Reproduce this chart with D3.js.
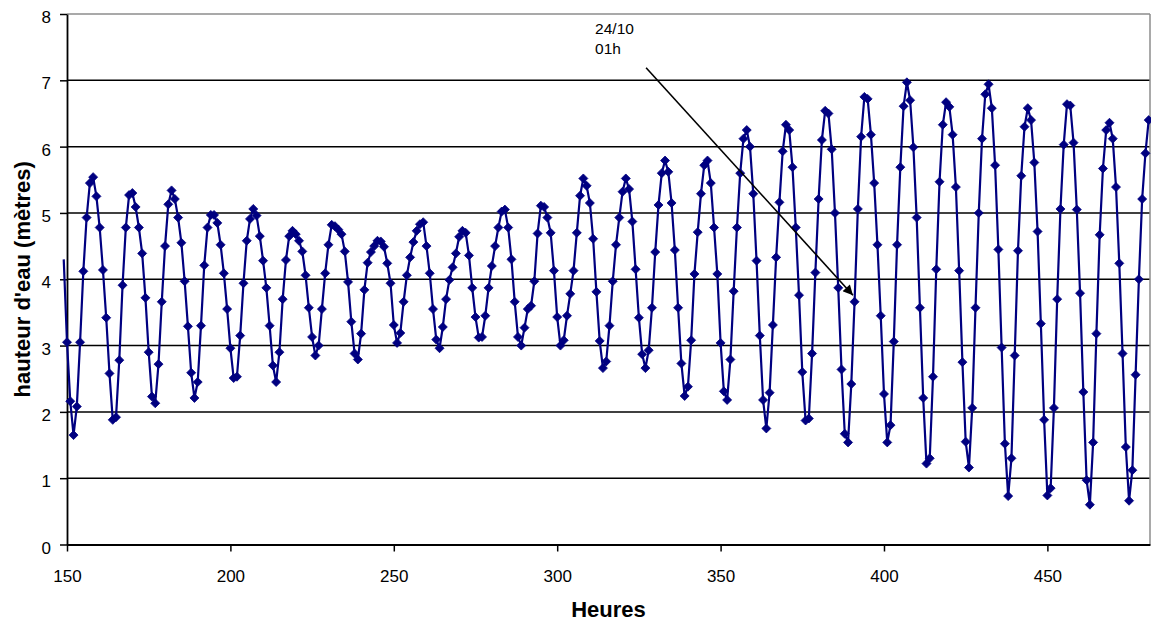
<!DOCTYPE html>
<html>
<head>
<meta charset="utf-8">
<script src="https://cdn.jsdelivr.net/npm/d3@7"></script>
<style>
  html, body { margin: 0; padding: 0; background: #fff; }
  svg { display: block; font-family: Arial, "Liberation Sans", sans-serif; }
</style>
</head>
<body>
<svg id="chart" width="1151" height="624"></svg>
<script>
// ---- data (hourly water height, metres) ----
const firstHour = 149;
const heights1 = [4.30, 3.05, 2.16, 1.65, 2.08, 3.05, 4.12, 4.93, 5.45, 5.54, 5.25, 4.78, 4.14, 3.42, 2.58, 1.88, 1.92, 2.78, 3.91, 4.78, 5.27, 5.30, 5.09, 4.78, 4.39, 3.72, 2.90, 2.23, 2.13, 2.72, 3.66, 4.50, 5.13, 5.34, 5.21, 4.93, 4.55, 3.97, 3.29, 2.59, 2.21];
const heights2 = [2.45, 3.30, 4.21, 4.78, 4.97, 4.97, 4.85, 4.52, 4.09, 3.55, 2.96, 2.51, 2.53, 3.15, 3.94, 4.58, 4.91, 5.06, 4.96, 4.65, 4.28, 3.87, 3.30, 2.70, 2.45, 2.90, 3.70, 4.29, 4.65, 4.73, 4.68, 4.58, 4.42, 4.06, 3.57, 3.13, 2.85, 3.00, 3.55, 4.09, 4.52];
const heights3 = [4.82, 4.80, 4.75, 4.68, 4.42, 3.96, 3.36, 2.88, 2.79, 3.18, 3.84, 4.25, 4.41, 4.50, 4.58, 4.57, 4.49, 4.24, 3.94, 3.31, 3.04, 3.19, 3.66, 4.06, 4.33, 4.56, 4.73, 4.83, 4.86, 4.50, 4.09, 3.55, 3.09, 2.96, 3.28, 3.70, 3.99, 4.18, 4.39, 4.64, 4.73];
const heights4 = [4.70, 4.36, 3.87, 3.43, 3.12, 3.13, 3.45, 3.87, 4.20, 4.50, 4.78, 5.02, 5.05, 4.78, 4.30, 3.66, 3.13, 3.00, 3.27, 3.55, 3.60, 3.97, 4.69, 5.11, 5.09, 4.93, 4.70, 4.13, 3.43, 3.00, 3.08, 3.45, 3.78, 4.13, 4.70, 5.26, 5.52, 5.41, 5.15, 4.61, 3.81, 3.07];
const heights5 = [2.66, 2.76, 3.30, 3.97, 4.52, 4.93, 5.32, 5.52, 5.36, 4.87, 4.15, 3.42, 2.87, 2.66, 2.93, 3.57, 4.41, 5.12, 5.60, 5.79, 5.62, 5.15, 4.44, 3.57, 2.73, 2.24, 2.38, 3.08, 4.08, 4.71, 5.29, 5.72, 5.79, 5.45, 4.78, 4.08, 3.04, 2.31, 2.18, 2.79, 3.82];
const heights6 = [4.78, 5.60, 6.12, 6.25, 6.00, 5.29, 4.28, 3.15, 2.18, 1.75, 2.29, 3.31, 4.33, 5.16, 5.93, 6.33, 6.25, 5.69, 4.78, 3.76, 2.60, 1.87, 1.90, 2.88, 4.10, 5.21, 6.10, 6.54, 6.50, 5.96, 5.00, 3.87, 2.64, 1.67, 1.54, 2.42, 3.66, 5.06, 6.15, 6.75, 6.72];
const heights7 = [6.18, 5.45, 4.52, 3.45, 2.27, 1.54, 1.80, 3.06, 4.52, 5.69, 6.61, 6.97, 6.70, 5.99, 4.93, 3.57, 2.21, 1.22, 1.30, 2.53, 4.15, 5.47, 6.33, 6.67, 6.60, 6.18, 5.39, 4.13, 2.75, 1.55, 1.16, 2.06, 3.57, 5.00, 6.12, 6.79, 6.94, 6.58, 5.72, 4.45, 2.97, 1.52];
const heights8 = [0.73, 1.30, 2.85, 4.43, 5.56, 6.30, 6.58, 6.40, 5.76, 4.72, 3.33, 1.88, 0.74, 0.85, 2.06, 3.70, 5.06, 6.03, 6.64, 6.62, 6.06, 5.05, 3.79, 2.30, 0.97, 0.60, 1.54, 3.18, 4.67, 5.67, 6.25, 6.36, 6.12, 5.39, 4.24, 2.88, 1.47, 0.66, 1.12, 2.56, 4.00, 5.21, 5.90, 6.40];
const heights = [].concat(heights1, heights2, heights3, heights4, heights5, heights6, heights7, heights8);

const xTicks = [150, 200, 250, 300, 350, 400, 450];
const yTicks = [0, 1, 2, 3, 4, 5, 6, 7, 8];
const xDomain = [150, 481.4];
const yDomain = [0, 8];
const xTitle = "Heures";
const yTitle = "hauteur d'eau (mètres)";
const noteLines = ["24/10", "01h"];
const noteText = { hour: 311.6, value: 7.70 };
const arrowFrom = { hour: 327.2, value: 7.19 };
const arrowTo = { hour: 390.5, value: 3.76 };

// ---- layout ----
const svg = d3.select("#chart");
const m = { left: 67, right: 1150, top: 14, bottom: 544.5 };
const x = d3.scaleLinear().domain(xDomain).range([m.left, m.right]);
const y = d3.scaleLinear().domain(yDomain).range([m.bottom, m.top]);
const navy = "#000080";

const data = heights.map((v, i) => ({ h: firstHour + i, v }));

// horizontal gridlines
svg.append("g").selectAll("line").data(yTicks.filter(t => t > 0 && t < 8)).join("line")
  .attr("x1", m.left).attr("x2", m.right)
  .attr("y1", d => y(d)).attr("y2", d => y(d))
  .attr("stroke", "#000").attr("stroke-width", 1.5);

// plot frame: top and right in gray
svg.append("line").attr("x1", m.left).attr("x2", m.right).attr("y1", y(8)).attr("y2", y(8))
  .attr("stroke", "#8c8c8c").attr("stroke-width", 1.5);
svg.append("line").attr("x1", m.right).attr("x2", m.right).attr("y1", y(8)).attr("y2", y(0))
  .attr("stroke", "#8c8c8c").attr("stroke-width", 1.5);

// axes
const xAxis = d3.axisBottom(x).tickValues(xTicks).tickSize(7).tickSizeOuter(0).tickPadding(18);
const yAxis = d3.axisLeft(y).tickValues(yTicks).tickSize(7).tickSizeOuter(0).tickPadding(9);

const gx = svg.append("g").attr("transform", `translate(0,${m.bottom})`).call(xAxis);
const gy = svg.append("g").attr("transform", `translate(${m.left},0)`).call(yAxis);
[gx, gy].forEach(g => {
  g.select(".domain").attr("stroke", "#000").attr("stroke-width", 1.8);
  g.selectAll(".tick line").attr("stroke", "#000").attr("stroke-width", 1.5);
  g.selectAll(".tick text").attr("fill", "#000").attr("font-size", 17)
    .attr("font-family", 'Arial, "Liberation Sans", sans-serif');
});
gy.selectAll(".tick text").attr("dy", "0.5em");
gx.selectAll(".tick text").attr("dy", "0.72em");

// series line
const line = d3.line().x(d => x(d.h)).y(d => y(d.v));
svg.append("path").datum(data)
  .attr("fill", "none").attr("stroke", navy).attr("stroke-width", 2.2)
  .attr("stroke-linejoin", "round")
  .attr("d", line);

// diamond markers
const r = 4.5;
svg.append("g").selectAll("path").data(data.filter(d => d.h >= xDomain[0] && d.h <= xDomain[1])).join("path")
  .attr("transform", d => `translate(${x(d.h)},${y(d.v)})`)
  .attr("d", `M0,${-r}L${r},0L0,${r}L${-r},0Z`)
  .attr("fill", navy).attr("stroke", navy).attr("stroke-width", 0.8);

// annotation
const defs = svg.append("defs");
defs.append("marker").attr("id", "arrowhead")
  .attr("viewBox", "0 0 10 10").attr("refX", 10).attr("refY", 5)
  .attr("markerWidth", 12).attr("markerHeight", 10).attr("markerUnits", "userSpaceOnUse")
  .attr("orient", "auto")
  .append("path").attr("d", "M0,0L10,5L0,10Z").attr("fill", "#000");

svg.append("line")
  .attr("x1", x(arrowFrom.hour)).attr("y1", y(arrowFrom.value))
  .attr("x2", x(arrowTo.hour)).attr("y2", y(arrowTo.value))
  .attr("stroke", "#000").attr("stroke-width", 1.6)
  .attr("marker-end", "url(#arrowhead)");

const note = svg.append("text")
  .attr("x", x(noteText.hour)).attr("y", y(noteText.value))
  .attr("font-size", 15.5).attr("fill", "#000");
noteLines.forEach((t, i) => note.append("tspan")
  .attr("x", x(noteText.hour)).attr("dy", i === 0 ? 0 : 20).text(t));

// axis titles
svg.append("text")
  .attr("x", (m.left + m.right) / 2 + 0).attr("y", 617)
  .attr("text-anchor", "middle").attr("font-weight", "bold").attr("font-size", 22)
  .text(xTitle);
svg.append("text")
  .attr("transform", `translate(30,${(m.top + m.bottom) / 2}) rotate(-90)`)
  .attr("text-anchor", "middle").attr("font-weight", "bold").attr("font-size", 22)
  .text(yTitle);
</script>
</body>
</html>
